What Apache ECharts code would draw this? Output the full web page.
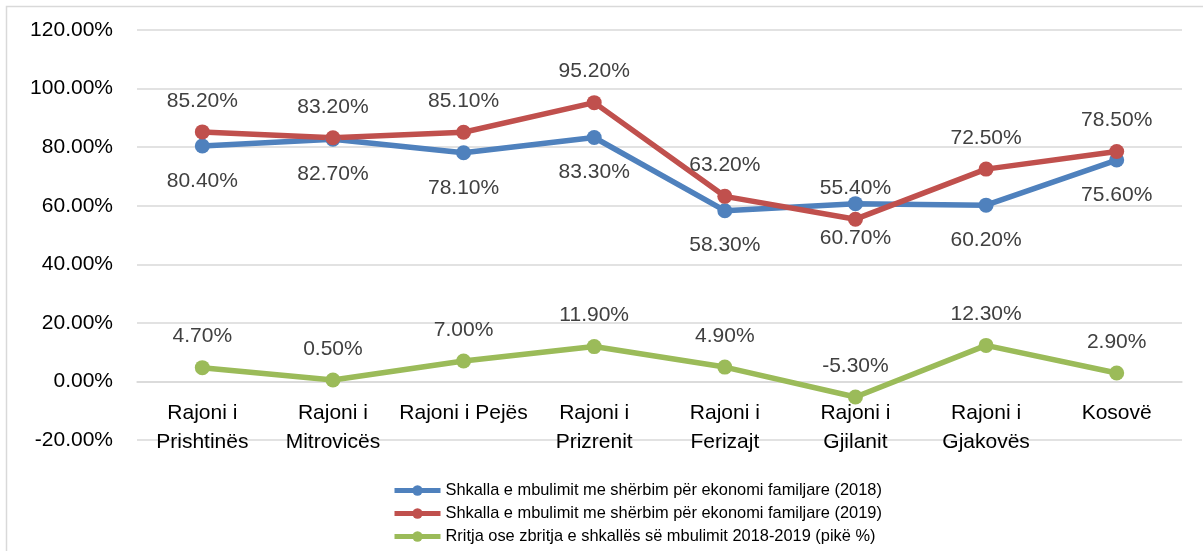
<!DOCTYPE html>
<html>
<head>
<meta charset="utf-8">
<script src="https://cdn.jsdelivr.net/npm/echarts@6/dist/echarts.min.js"></script>
<style>
html,body{margin:0;padding:0;background:#fff;}
#chart{width:1203px;height:551px;}
</style>
</head>
<body>
<div id="chart"></div>
<script>
const categories = ["Rajoni i\nPrishtinës", "Rajoni i\nMitrovicës", "Rajoni i Pejës", "Rajoni i\nPrizrenit", "Rajoni i\nFerizajt", "Rajoni i\nGjilanit", "Rajoni i\nGjakovës", "Kosovë"];
const seriesNames = [
  "Shkalla e mbulimit me shërbim për ekonomi familjare (2018)",
  "Shkalla e mbulimit me shërbim për ekonomi familjare (2019)",
  "Rritja ose zbritja e shkallës së mbulimit 2018-2019 (pikë %)"
];
const values2018 = [80.4, 82.7, 78.1, 83.3, 58.3, 60.7, 60.2, 75.6];
const values2019 = [85.2, 83.2, 85.1, 95.2, 63.2, 55.4, 72.5, 78.5];
const valuesChange = [4.7, 0.5, 7.0, 11.9, 4.9, -5.3, 12.3, 2.9];
const yMin = -20, yMax = 120, yStep = 20;

const FONT = "Liberation Sans";
const GRID_TOP = 30, GRID_BOTTOM = 111, H = 551;
const plotH = H - GRID_TOP - GRID_BOTTOM;
const zeroOffset = -plotH * (0 - yMin) / (yMax - yMin);

const chart = echarts.init(document.getElementById('chart'));

function mkSeries(name, data, color, pos, dist) {
  return {
    name: name,
    type: 'line',
    data: data,
    symbol: 'circle',
    symbolSize: 15,
    lineStyle: { color: color, width: 5.5 },
    itemStyle: { color: color },
    label: {
      show: true,
      position: pos,
      distance: dist,
      formatter: p => p.value.toFixed(2) + '%',
      color: '#404040',
      fontFamily: FONT,
      fontSize: 21
    },
    animation: false
  };
}

chart.setOption({
  animation: false,
  textStyle: { fontFamily: FONT },
  graphic: [{
    type: 'rect',
    shape: { x: 6.5, y: 6.5, width: 1300, height: 700 },
    style: { fill: 'none', stroke: '#d9d9d9', lineWidth: 1.5 },
    silent: true, z: -10
  }],
  grid: { left: 137, right: 21, top: GRID_TOP, bottom: GRID_BOTTOM },
  legend: {
    orient: 'vertical',
    left: 387,
    top: 477,
    itemWidth: 46,
    itemHeight: 13,
    itemGap: 6,
    lineStyle: { width: 5 },
    textStyle: { fontFamily: FONT, fontSize: 16.4, color: '#000', lineHeight: 17 },
    data: seriesNames
  },
  xAxis: {
    type: 'category',
    data: categories,
    boundaryGap: true,
    position: 'bottom',
    offset: zeroOffset,
    axisLine: { show: true, onZero: false, lineStyle: { color: '#d9d9d9', width: 1.5 } },
    axisTick: { show: false },
    axisLabel: { fontFamily: FONT, fontSize: 21, color: '#000', lineHeight: 28.5, margin: 18, interval: 0 }
  },
  yAxis: {
    type: 'value',
    min: yMin, max: yMax, interval: yStep,
    axisLine: { show: false },
    axisTick: { show: false },
    splitLine: { lineStyle: { color: '#d9d9d9', width: 1.5 } },
    axisLabel: { fontFamily: FONT, fontSize: 21, color: '#000', margin: 24, formatter: v => v.toFixed(2) + '%' }
  },
  series: [
    mkSeries(seriesNames[0], values2018, '#4F81BD', 'bottom', 17),
    mkSeries(seriesNames[1], values2019, '#C0504D', 'top', 13),
    mkSeries(seriesNames[2], valuesChange, '#9BBB59', 'top', 13)
  ]
});
</script>
</body>
</html>
